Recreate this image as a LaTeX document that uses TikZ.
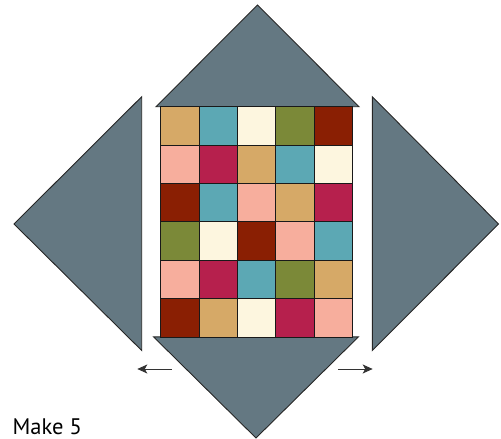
\documentclass[tikz,border=0pt]{standalone}
\usepackage{fontspec}
\setmainfont{PT Sans}
\usetikzlibrary{arrows.meta}
\definecolor{slate}{HTML}{647882}
\definecolor{qtan}{HTML}{D6A967}
\definecolor{qteal}{HTML}{5CA8B4}
\definecolor{qcream}{HTML}{FDF6DF}
\definecolor{qolive}{HTML}{7B8938}
\definecolor{qred}{HTML}{8A1F03}
\definecolor{qpink}{HTML}{F7AE9D}
\definecolor{qrose}{HTML}{B6204D}
\tikzset{
  tri/.style={fill=slate,draw=black!85,line width=0.9pt,line join=miter},
  cell/.style={draw=black!90,line width=1.1pt},
  mover/.style={draw=black!80,line width=1pt,-{Stealth[length=10pt,width=9pt,inset=2.5pt]}}
}
\begin{document}
\begin{tikzpicture}[x=1pt,y=-1pt]
\useasboundingbox (0,0) rectangle (501,439);
% triangles
\draw[tri] (156,106.7) -- (257.5,5) -- (359,106.7) -- cycle;
\draw[tri] (153.5,336.8) -- (358.5,336.8) -- (256,438) -- cycle;
\draw[tri] (141.7,96.7) -- (141.7,350.5) -- (14,224) -- cycle;
\draw[tri] (372.3,96.7) -- (372.3,350.5) -- (498.5,224) -- cycle;
% grid
\def\cw{38.4}
\foreach \row/\cols in {0/{qtan,qteal,qcream,qolive,qred},
                        1/{qpink,qrose,qtan,qteal,qcream},
                        2/{qred,qteal,qpink,qtan,qrose},
                        3/{qolive,qcream,qred,qpink,qteal},
                        4/{qpink,qrose,qteal,qolive,qtan},
                        5/{qred,qtan,qcream,qrose,qpink}}{
  \foreach \c [count=\i from 0] in \cols {
    \draw[cell,fill=\c] ({160.7+\i*\cw},{106.7+\row*\cw}) rectangle ++(\cw,\cw);
  }
}
% arrows
\coordinate (la) at (171.7,369);
\coordinate (lb) at (137.3,369);
\coordinate (ra) at (338.3,369);
\coordinate (rb) at (372.7,369);
\draw[mover] (la) -- (lb);
\draw[mover] (ra) -- (rb);
% label
\node[anchor=base west,inner sep=0pt,font=\fontsize{22.5}{26}\selectfont] (lbl) at (12.5,434) {Make 5};
\end{tikzpicture}
\end{document}
